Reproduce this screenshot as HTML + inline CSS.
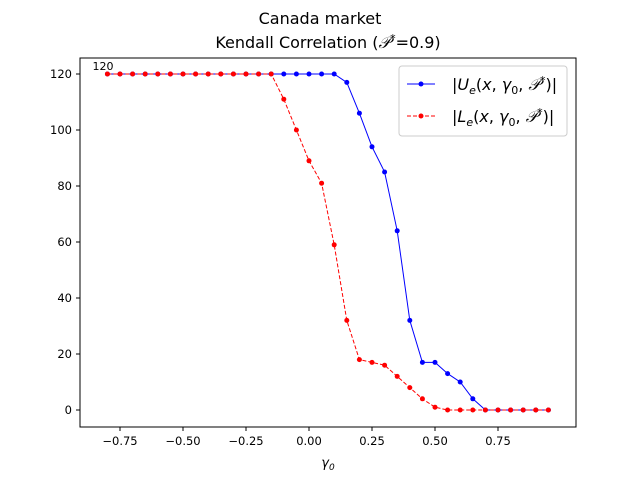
<!DOCTYPE html>
<html><head><meta charset="utf-8"><style>
body{margin:0;background:#fff;font-family:"Liberation Sans","DejaVu Sans",sans-serif}
svg text{font-family:"DejaVu Sans","Liberation Sans",sans-serif}
</style></head><body>
<svg id="chart" width="640" height="480" xmlns="http://www.w3.org/2000/svg">
<rect width="640" height="480" fill="#fff"/>
<text x="320" y="24" font-size="16" text-anchor="middle">Canada market</text>
<text x="328" y="48" font-size="16" text-anchor="middle">Kendall Correlation (<tspan font-style="italic">𝒫</tspan><tspan dy="-6" font-size="11">*</tspan><tspan dy="6">=0.9)</tspan></text>
<g id="plot"></g>
<rect x="80" y="58" width="496" height="369" fill="none" stroke="#000" stroke-width="1"/>
<text x="103" y="70" font-size="11" text-anchor="middle">120</text>
<text x="328" y="467" font-size="13" text-anchor="middle" font-style="italic">γ<tspan font-size="9" dy="3">0</tspan></text>
<g>
<rect x="399" y="66" width="168" height="70" rx="3" fill="#fff" stroke="#ccc"/>
<line x1="407" y1="84" x2="435" y2="84" stroke="blue" stroke-width="1"/><circle cx="421" cy="84" r="2.5" fill="blue"/>
<text x="452" y="90" font-size="16">|<tspan font-style="italic">U</tspan><tspan font-size="11" dy="4" font-style="italic">e</tspan><tspan dy="-4">(</tspan><tspan font-style="italic">x</tspan>, <tspan font-style="italic">γ</tspan><tspan font-size="11" dy="4">0</tspan><tspan dy="-4">, </tspan><tspan font-style="italic">𝒫</tspan><tspan font-size="11" dy="-6">*</tspan><tspan dy="6">)|</tspan></text>
<line x1="407" y1="116" x2="435" y2="116" stroke="red" stroke-width="1" stroke-dasharray="4,2"/><circle cx="421" cy="116" r="2.5" fill="red"/>
<text x="452" y="122" font-size="16">|<tspan font-style="italic">L</tspan><tspan font-size="11" dy="4" font-style="italic">e</tspan><tspan dy="-4">(</tspan><tspan font-style="italic">x</tspan>, <tspan font-style="italic">γ</tspan><tspan font-size="11" dy="4">0</tspan><tspan dy="-4">, </tspan><tspan font-style="italic">𝒫</tspan><tspan font-size="11" dy="-6">*</tspan><tspan dy="6">)|</tspan></text>
</g>
</svg>
<script>
const gammas=[-0.8,-0.75,-0.7,-0.65,-0.6,-0.55,-0.5,-0.45,-0.4,-0.35,-0.3,-0.25,-0.2,-0.15,-0.1,-0.05,0,0.05,0.1,0.15,0.2,0.25,0.3,0.35,0.4,0.45,0.5,0.55,0.6,0.65,0.7,0.75,0.8,0.85,0.9,0.95];
const upperVals=[120,120,120,120,120,120,120,120,120,120,120,120,120,120,120,120,120,120,120,117,106,94,85,64,32,17,17,13,10,4,0,0,0,0,0,0];
const lowerVals=[120,120,120,120,120,120,120,120,120,120,120,120,120,120,111,100,89,81,59,32,18,17,16,12,8,4,1,0,0,0,0,0,0,0,0,0];
const xTicks=[-0.75,-0.5,-0.25,0,0.25,0.5,0.75];
const xTickLabels=["−0.75","−0.50","−0.25","0.00","0.25","0.50","0.75"];
const yTicks=[0,20,40,60,80,100,120];
const NS="http://www.w3.org/2000/svg";
const xs=v=>309+v*252, ys=v=>410-v*2.8;
const g=document.getElementById('plot');
function mk(t,a){const e=document.createElementNS(NS,t);for(const k in a)e.setAttribute(k,a[k]);g.appendChild(e);return e;}
xTicks.forEach((t,i)=>{const x=xs(t);
const l=mk('line',{x1:x,x2:x,y1:427,y2:431,stroke:'#000'});


const tx=mk('text',{x:x,y:445,'font-size':11.5,'text-anchor':'middle'});tx.textContent=xTickLabels[i];

});
yTicks.forEach(t=>{const y=ys(t);
const l=mk('line',{x1:76,x2:80,y1:y,y2:y,stroke:'#000'});


const tx=mk('text',{x:72,y:y+4,'font-size':11.5,'text-anchor':'end'});tx.textContent=t;

});
function series(vals,color,dash,name){
const p=mk('polyline',{points:vals.map((v,i)=>xs(gammas[i])+','+ys(v)).join(' '),fill:'none',stroke:color,'stroke-width':1,'stroke-dasharray':dash});


vals.forEach((v,i)=>{const c=mk('circle',{cx:xs(gammas[i]),cy:ys(v),r:2.5,fill:color});

});}
series(upperVals,'blue','none','upper');
series(lowerVals,'red','4,2','lower');
</script>
</body></html>
